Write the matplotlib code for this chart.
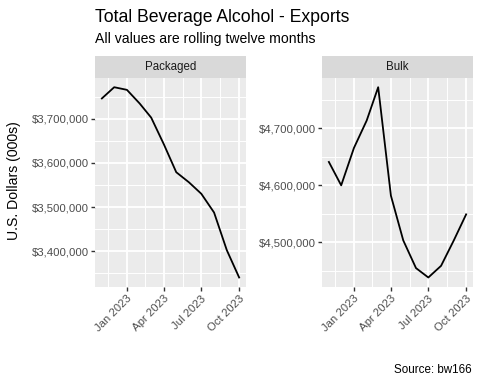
import matplotlib
matplotlib.use("Agg")
import matplotlib.pyplot as plt
import matplotlib.dates as mdates
import numpy as np
import pandas as pd

plt.rcParams['font.family'] = ['Liberation Sans', 'DejaVu Sans']

months = pd.date_range("2022-11-01", "2023-10-01", freq="MS")
packaged = [3746500, 3772000, 3766000, 3735000, 3703000, 3642000,
            3579000, 3556000, 3530000, 3487500, 3402000, 3340000]
bulk = [4640800, 4599700, 4665400, 4713500, 4772100, 4581500,
        4503000, 4454300, 4437800, 4458300, 4503000, 4548700]
facets = ["Packaged", "Bulk"]
major_x = pd.to_datetime(["2023-01-01", "2023-04-01", "2023-07-01", "2023-10-01"])
yticks = {"Packaged": [3400000, 3500000, 3600000, 3700000],
          "Bulk": [4500000, 4600000, 4700000]}

W, H = 480, 384
fig = plt.figure(figsize=(4.8, 3.84), dpi=100)


def px(x0, y0, x1, y1):
    return [x0 / W, 1 - y1 / H, (x1 - x0) / W, (y1 - y0) / H]


panels = {"Packaged": (95, 77.7, 246, 287), "Bulk": (322, 77.7, 473, 287)}
series = {"Packaged": packaged, "Bulk": bulk}

for name in facets:
    x0, y0, x1, y1 = panels[name]
    ax = fig.add_axes(px(x0, y0, x1, y1))
    ax.set_facecolor("#EBEBEB")
    for s in ax.spines.values():
        s.set_visible(False)
    vals = series[name]
    ax.plot(mdates.date2num(months), vals, color="black", lw=1.3, zorder=3)
    ax.margins(0.05)
    xlim = ax.get_xlim()
    ylim = ax.get_ylim()

    # major breaks
    xt = mdates.date2num(major_x)
    yt = yticks[name]
    ax.set_xticks(xt)
    ax.set_xticklabels([d.strftime("%b %Y") for d in major_x], rotation=45,
                       ha="right", va="top", rotation_mode="anchor")
    ax.set_yticks(yt)
    ax.set_yticklabels(["${:,.0f}".format(v) for v in yt])

    # minor breaks (midpoints)
    xm = list((xt[:-1] + xt[1:]) / 2) + [xt[0] - (xt[1] - xt[0]) / 2]
    ym = [yt[0] - 50000] + [v + 50000 for v in yt]
    for v in xm:
        if xlim[0] < v < xlim[1]:
            ax.axvline(v, color="white", lw=0.7, zorder=1)
    for v in ym:
        if ylim[0] < v < ylim[1]:
            ax.axhline(v, color="white", lw=0.7, zorder=1)
    for v in xt:
        ax.axvline(v, color="white", lw=1.3, zorder=2)
    for v in yt:
        ax.axhline(v, color="white", lw=1.3, zorder=2)
    ax.set_xlim(xlim)
    ax.set_ylim(ylim)

    ax.tick_params(axis="both", length=2.6, width=1.0, color="#333333",
                   labelcolor="#4D4D4D", labelsize=8.2, pad=2)

    # strip
    sx = fig.add_axes(px(x0, 55.5, x1, y0))
    sx.set_xticks([])
    sx.set_yticks([])
    for s in sx.spines.values():
        s.set_visible(False)
    sx.set_facecolor("#D9D9D9")
    sx.text(0.5, 0.5, name, ha="center", va="center", color="#1A1A1A",
            fontsize=8.3, transform=sx.transAxes)

fig.text(95 / W, 1 - 17 / H, "Total Beverage Alcohol - Exports", fontsize=12.7,
         ha="left", va="center", color="black")
fig.text(95 / W, 1 - 39 / H, "All values are rolling twelve months", fontsize=10.1,
         ha="left", va="center", color="black")
fig.text(14 / W, 1 - 181 / H, "U.S. Dollars (000s)", fontsize=10.1, rotation=90,
         ha="center", va="center", color="black")
fig.text(472 / W, 1 - 370 / H, "Source: bw166", fontsize=8.4, ha="right",
         va="center", color="black")

fig.savefig("out.png", dpi=100)
